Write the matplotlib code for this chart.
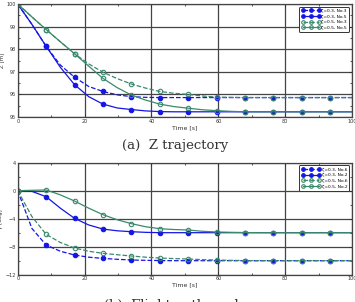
import matplotlib
matplotlib.use("Agg")
import matplotlib.pyplot as plt
from matplotlib.ticker import MultipleLocator

# sample times (markers every other sample)
t = [0, 4.25, 8.5, 12.75, 17, 21.25, 25.5, 29.75, 34, 38.25, 42.5, 46.75,
     51, 55.25, 59.5, 63.75, 68, 72.25, 76.5, 80.75, 85, 89.25, 93.5, 97.75, 100]

# (a) Z trajectory [m]
z_03_no3 = [100, 99.1, 98.13, 97.3, 96.76, 96.35, 96.13, 95.98, 95.9, 95.87, 95.86, 95.86,
            95.86, 95.86, 95.86, 95.86, 95.86, 95.86, 95.86, 95.86, 95.86, 95.86, 95.86, 95.86, 95.86]
z_03_no5 = [100, 99.1, 98.13, 97.2, 96.43, 95.9, 95.57, 95.4, 95.33, 95.27, 95.24, 95.23,
            95.23, 95.23, 95.23, 95.23, 95.23, 95.23, 95.23, 95.23, 95.23, 95.23, 95.23, 95.23, 95.23]
z_05_no3 = [100, 99.43, 98.87, 98.33, 97.8, 97.35, 96.98, 96.7, 96.46, 96.28, 96.13, 96.05,
            96.0, 95.93, 95.88, 95.87, 95.86, 95.86, 95.86, 95.86, 95.86, 95.86, 95.86, 95.86, 95.86]
z_05_no5 = [100, 99.43, 98.87, 98.33, 97.8, 97.25, 96.71, 96.3, 95.97, 95.75, 95.57, 95.46,
            95.39, 95.32, 95.28, 95.25, 95.23, 95.23, 95.23, 95.23, 95.23, 95.23, 95.23, 95.23, 95.23]

# (b) flight path angle [deg]
g_03_no6 = [0, -5.4, -7.76, -8.65, -9.19, -9.5, -9.67, -9.8, -9.9, -9.95, -9.98, -10.0,
            -10.0, -10.0, -10.0, -10.0, -10.0, -10.0, -10.0, -10.0, -10.0, -10.0, -10.0, -10.0, -10.0]
g_03_no2 = [0, -0.1, -0.86, -2.5, -3.95, -4.9, -5.48, -5.73, -5.86, -5.95, -6.0, -6.0,
            -6.0, -6.0, -6.0, -6.0, -6.0, -6.0, -6.0, -6.0, -6.0, -6.0, -6.0, -6.0, -6.0]
g_05_no6 = [0, -3.7, -6.24, -7.4, -8.19, -8.65, -8.95, -9.15, -9.33, -9.5, -9.62, -9.7,
            -9.76, -9.85, -9.9, -9.95, -9.98, -10.0, -10.0, -10.0, -10.0, -10.0, -10.0, -10.0, -10.0]
g_05_no2 = [0, 0.05, 0.1, -0.6, -1.48, -2.5, -3.43, -4.15, -4.71, -5.15, -5.43, -5.55,
            -5.62, -5.8, -5.9, -5.95, -5.98, -6.0, -6.0, -6.0, -6.0, -6.0, -6.0, -6.0, -6.0]

labels_a = ["ζ=0.3, No.3", "ζ=0.3, No.5", "ζ=0.5, No.3", "ζ=0.5, No.5"]
labels_b = ["ζ=0.3, No.6", "ζ=0.3, No.2", "ζ=0.5, No.6", "ζ=0.5, No.2"]

blue = "#1515e6"
green = "#3a8a6c"
marks = list(range(0, 24, 2))


def draw(ax, series, labels, ylim, ymajor, yminor, ylabel):
    styles = [(blue, "--", "o", blue), (blue, "-", "o", blue),
              (green, "--", "o", "none"), (green, "-", "o", "none")]
    for y, lab, (c, ls, m, fc) in zip(series, labels, styles):
        ax.plot(t, y, color=c, ls=ls, lw=0.9, marker=m, ms=3.2, mfc=fc, mec=c,
                mew=0.8, markevery=marks, label=lab)
    ax.set_xlim(0, 100)
    ax.set_ylim(*ylim)
    ax.xaxis.set_major_locator(MultipleLocator(20))
    ax.xaxis.set_minor_locator(MultipleLocator(10))
    ax.yaxis.set_major_locator(MultipleLocator(ymajor))
    ax.yaxis.set_minor_locator(MultipleLocator(yminor))
    ax.grid(True, which="major", color="#444444", lw=0.9)
    ax.tick_params(which="both", direction="in", top=True, right=True,
                   labelsize=3.5, colors="#333333", pad=1.2, length=2.5, width=0.6)
    ax.tick_params(which="minor", length=1.5)
    for s in ax.spines.values():
        s.set_color("#444444")
        s.set_linewidth(0.9)
    ax.set_xlabel("Time [s]", fontsize=4.5, labelpad=1, color="#333333")
    ax.set_ylabel(ylabel, fontsize=4, labelpad=2, color="#333333")
    leg = ax.legend(loc="upper right", fontsize=3.2, numpoints=3, fancybox=True,
                    framealpha=1, edgecolor="#333333", borderpad=0.5,
                    handlelength=4.2, labelspacing=0.35, handletextpad=0.3,
                    borderaxespad=0.6)
    leg.get_frame().set_linewidth(0.7)
    for h in leg.legend_handles:
        h.set_markevery(None)
        h.set_markersize(2.6)


fig = plt.figure(figsize=(3.55, 3.02), dpi=100)
ax1 = fig.add_axes([0.0499, 0.6126, 0.9417, 0.374])
ax2 = fig.add_axes([0.0499, 0.0904, 0.9417, 0.371])

draw(ax1, [z_03_no3, z_03_no5, z_05_no3, z_05_no5], labels_a, (95, 100), 1, 0.5, "Z [m]")
draw(ax2, [g_03_no6, g_03_no2, g_05_no6, g_05_no2], labels_b, (-12, 4), 4, 2, "γ [deg]")

fig.text(0.493, 1 - 145 / 302, "(a)  Z trajectory", ha="center", va="center",
         fontsize=9.5, family="DejaVu Serif", color="#333333")
fig.text(0.493, 1 - 299 / 302, "(b)  Flight path angle", ha="center", va="top",
         fontsize=9.5, family="DejaVu Serif", color="#333333")

fig.savefig("out.png", dpi=100)
